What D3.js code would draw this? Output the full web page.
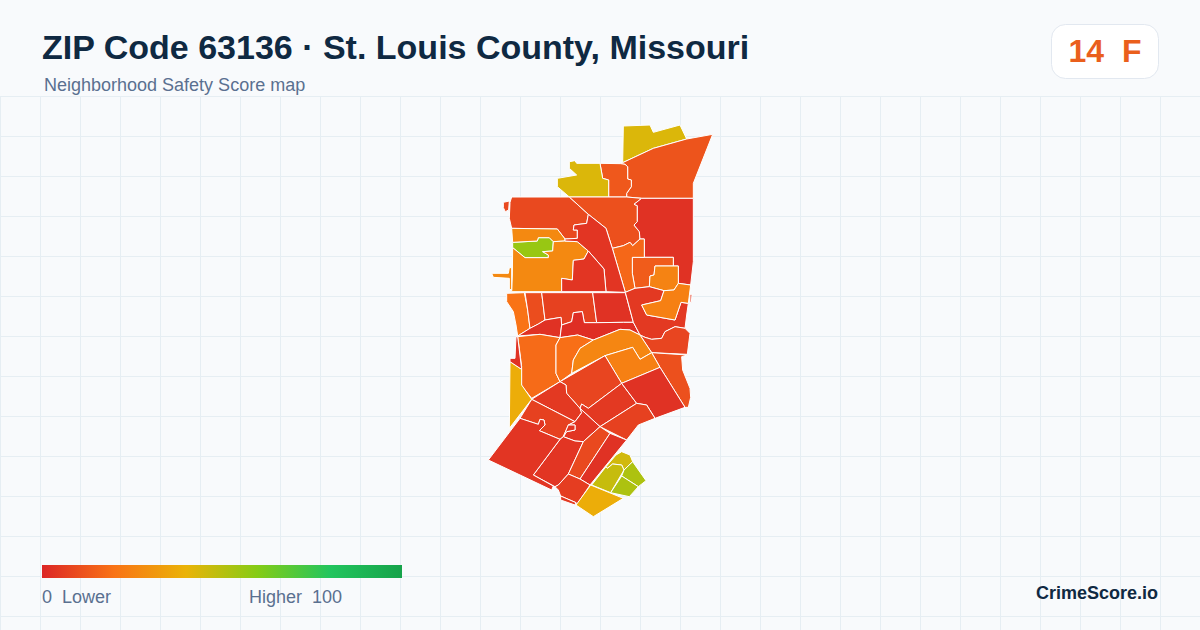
<!DOCTYPE html>
<html>
<head>
<meta charset="utf-8">
<script src="https://cdn.jsdelivr.net/npm/d3@7"></script>
<style>
  html, body { margin: 0; padding: 0; background: #f8fafc; }
  svg { display: block; }
  text { font-family: "Liberation Sans", Arial, sans-serif; white-space: pre; }
</style>
</head>
<body>
<div id="chart"></div>
<script>
const titleText = "ZIP Code 63136 · St. Louis County, Missouri";
const subtitleText = "Neighborhood Safety Score map";
const overallScore = 14;
const overallGrade = "F";
const legendLow = "0  Lower";
const legendHigh = "Higher  100";
const brandText = "CrimeScore.io";

const colorStops = [0, 20, 40, 60, 80, 100];
const colorValues = ["#dc2626", "#f97316", "#eab308", "#84cc16", "#22c55e", "#16a34a"];

// block group score
const tractScores = [
  43, 12, 13, 43, 9, 9, 11, 3, 14, 25, 17, 56, 27, 27, 27, 4, 4,
  20, 10, 7, 3, 3, 2, 5, 5, 24, 8, 11,
  18, 19, 26, 24, 8, 5, 3, 7, 5, 7, 4, 4, 4, 4, 9, 3, 6, 5,
  45, 47, 52, 52, 38, 38, 3
];

// block group outlines in map units
const tractRings = [
  [[430,33],[510,30],[520,52],[600,30],[620,72],[520,100],[428,143]],
  [[428,143],[520,100],[620,72],[698,58],[640,205],[640,250],[485,250],[440,246],[440,235],[454,215],[454,195],[443,192],[443,155],[435,148],[422,146]],
  [[360,145],[422,146],[435,148],[443,155],[443,192],[454,195],[454,215],[440,235],[440,246],[386,246],[386,195],[368,190]],
  [[268,140],[285,137],[290,145],[360,145],[368,190],[386,195],[386,246],[268,246],[232,215],[232,190],[290,180],[268,160]],
  [[95,246],[268,246],[325,298],[320,325],[282,330],[280,345],[292,345],[292,370],[255,372],[232,342],[95,340],[88,310],[90,262]],
  [[70,262],[88,258],[86,285],[76,290],[70,278]],
  [[268,246],[440,246],[485,250],[462,268],[472,272],[472,320],[462,330],[478,350],[480,372],[458,392],[450,382],[430,392],[397,400],[378,340],[325,298]],
  [[485,250],[640,250],[640,440],[632,510],[595,505],[595,453],[580,453],[580,427],[493,427],[493,372],[480,372],[478,350],[462,330],[472,320],[472,272],[462,268]],
  [[457,427],[580,427],[580,453],[525,453],[522,480],[510,483],[508,515],[465,520],[457,475]],
  [[525,453],[595,453],[595,505],[582,525],[552,527],[508,515],[510,483],[522,480]],
  [[397,400],[430,392],[450,382],[458,392],[480,372],[493,372],[493,427],[457,427],[457,475],[465,520],[436,532]],
  [[98,382],[172,378],[175,368],[208,368],[220,380],[218,408],[188,410],[205,420],[205,428],[135,428],[98,398]],
  [[95,340],[232,342],[255,372],[255,378],[220,380],[208,368],[175,368],[172,378],[98,382]],
  [[98,398],[135,428],[205,428],[205,420],[188,410],[218,408],[220,380],[255,378],[292,380],[325,408],[312,432],[280,436],[277,495],[245,490],[245,530],[95,530],[97,480]],
  [[35,475],[85,475],[88,458],[95,458],[95,525],[88,522],[88,490],[40,487]],
  [[320,325],[325,298],[378,340],[397,400],[436,532],[378,530],[372,462],[325,408],[292,380],[255,378],[255,372],[292,370],[292,345],[280,345],[282,330]],
  [[245,490],[277,495],[280,436],[312,432],[325,408],[372,462],[378,530],[245,530]],
  [[80,535],[133,533],[143,585],[150,640],[113,663],[108,630],[100,590],[80,560]],
  [[135,533],[185,533],[195,615],[175,627],[150,640],[143,585]],
  [[185,533],[338,533],[350,623],[313,623],[307,590],[280,593],[275,620],[245,630],[243,607],[195,615]],
  [[338,533],[436,533],[460,622],[430,622],[350,623]],
  [[113,663],[150,640],[175,627],[195,615],[243,607],[245,630],[240,668],[180,658]],
  [[245,630],[275,620],[280,593],[307,590],[313,623],[350,623],[430,622],[460,622],[480,660],[450,645],[420,643],[340,675],[293,660],[240,668]],
  [[436,532],[465,520],[508,515],[552,527],[542,557],[485,570],[500,600],[585,615],[603,562],[625,565],[620,600],[615,640],[585,635],[555,650],[545,670],[515,673],[495,667],[480,660],[460,622]],
  [[630,538],[636,538],[634,562],[630,562]],
  [[552,527],[582,525],[595,505],[632,510],[625,565],[603,562],[585,615],[500,600],[485,570],[542,557]],
  [[480,660],[495,667],[515,673],[545,670],[555,650],[585,635],[615,640],[630,655],[622,718],[515,713]],
  [[515,713],[622,720],[605,725],[608,765],[630,820],[632,847],[625,877],[615,877],[540,757]],
  [[113,665],[180,658],[240,668],[228,690],[228,775],[240,800],[155,850],[123,810],[125,755],[118,700]],
  [[240,668],[293,660],[340,675],[300,700],[280,735],[275,775],[240,800],[228,775],[228,690]],
  [[340,675],[420,643],[450,645],[480,660],[515,713],[480,733],[458,697],[375,722],[275,775],[280,735],[300,700]],
  [[375,722],[458,697],[480,733],[515,713],[540,757],[425,805]],
  [[375,722],[425,805],[325,880],[305,867],[300,880],[260,835],[258,810],[240,800]],
  [[425,805],[470,865],[360,935],[300,880],[305,867],[325,880]],
  [[425,805],[540,757],[615,877],[525,910],[500,870],[470,865]],
  [[470,865],[500,870],[525,910],[475,930],[440,975],[360,935]],
  [[155,853],[240,800],[258,810],[260,835],[300,880],[305,893],[285,920]],
  [[155,853],[285,920],[265,930],[250,965],[240,973],[178,947],[195,930],[192,915],[180,913],[175,928],[120,910]],
  [[300,880],[360,935],[310,980],[285,978],[250,965],[260,950],[285,945],[285,930],[265,930],[285,920],[305,893]],
  [[265,930],[285,930],[285,945],[260,950],[250,965]],
  [[240,973],[250,965],[285,978],[310,980],[265,1077],[235,1110],[225,1115],[160,1080]],
  [[120,910],[175,928],[180,913],[192,915],[195,930],[178,947],[240,973],[160,1080],[220,1113],[215,1125],[25,1035]],
  [[360,935],[390,955],[300,1092],[265,1077],[310,980]],
  [[390,955],[440,975],[330,1110],[300,1092]],
  [[265,1077],[300,1092],[330,1110],[290,1170],[288,1163],[242,1143],[235,1125],[225,1115],[235,1110]],
  [[242,1143],[288,1163],[285,1170],[242,1155]],
  [[378,1055],[408,1020],[425,1010],[450,1020],[458,1040],[432,1065],[425,1050],[398,1047],[382,1060]],
  [[378,1055],[382,1060],[398,1047],[425,1050],[432,1065],[392,1133],[335,1110]],
  [[458,1040],[498,1097],[475,1115],[425,1083],[432,1065]],
  [[425,1083],[475,1115],[448,1145],[392,1133]],
  [[332,1110],[430,1150],[340,1205],[288,1170]],
  [[90,740],[125,763],[125,810],[155,853],[88,940]],
  [[108,665],[113,665],[125,763],[90,740],[90,730],[105,730]]
];

const width = 1200, height = 630;

const color = d3.scaleLinear().domain(colorStops).range(colorValues);
const xMap = d3.scaleLinear().domain([0, 720]).range([480, 720]);
const yMap = d3.scaleLinear().domain([0, 1230]).range([115, 525]);

const svg = d3.select("#chart").append("svg")
  .attr("width", width)
  .attr("height", height);

svg.append("rect")
  .attr("width", width)
  .attr("height", height)
  .attr("fill", "#f8fafc");

// background grid
const grid = svg.append("g").attr("stroke", "#e6eef3").attr("stroke-width", 1);
grid.selectAll("line.v")
  .data(d3.range(0.5, width, 40))
  .join("line")
  .attr("class", "v")
  .attr("x1", d => d).attr("x2", d => d)
  .attr("y1", 96).attr("y2", height);
grid.selectAll("line.h")
  .data(d3.range(96.5, height, 40))
  .join("line")
  .attr("class", "h")
  .attr("x1", 0).attr("x2", width)
  .attr("y1", d => d).attr("y2", d => d);

// map
const ringLine = d3.line()
  .x(d => xMap(d[0]))
  .y(d => yMap(d[1]))
  .curve(d3.curveLinearClosed);

svg.append("g")
  .selectAll("path")
  .data(tractRings)
  .join("path")
  .attr("d", ringLine)
  .attr("fill", (d, i) => color(tractScores[i]))
  .attr("stroke", "#ffffff")
  .attr("stroke-width", 1)
  .attr("stroke-linejoin", "round");

// header
svg.append("text")
  .attr("x", 42).attr("y", 59)
  .attr("font-size", 34)
  .attr("font-weight", 700)
  .attr("fill", "#0f2942")
  .text(titleText);

svg.append("text")
  .attr("x", 44).attr("y", 91)
  .attr("font-size", 18)
  .attr("fill", "#5a7090")
  .text(subtitleText);

// score badge
svg.append("rect")
  .attr("x", 1051.5).attr("y", 24.5)
  .attr("width", 107).attr("height", 54)
  .attr("rx", 14)
  .attr("fill", "#ffffff")
  .attr("stroke", "#e2e8f0");

svg.append("text")
  .attr("x", 1105).attr("y", 62)
  .attr("text-anchor", "middle")
  .attr("font-size", 32)
  .attr("font-weight", 700)
  .attr("fill", "#ea5f1c")
  .text(`${overallScore}  ${overallGrade}`);

// legend
const legendScale = d3.scaleLinear().domain([0, 100]).range([42, 402]);

const gradient = svg.append("defs").append("linearGradient")
  .attr("id", "score-gradient");
gradient.selectAll("stop")
  .data(colorStops)
  .join("stop")
  .attr("offset", d => `${d}%`)
  .attr("stop-color", d => color(d));

svg.append("rect")
  .attr("x", legendScale(0)).attr("y", 565)
  .attr("width", legendScale(100) - legendScale(0)).attr("height", 13)
  .attr("fill", "url(#score-gradient)");

svg.append("text")
  .attr("x", 42).attr("y", 603)
  .attr("font-size", 18)
  .attr("fill", "#5a7090")
  .text(legendLow);

svg.append("text")
  .attr("x", 342).attr("y", 603)
  .attr("text-anchor", "end")
  .attr("font-size", 18)
  .attr("fill", "#5a7090")
  .text(legendHigh);

svg.append("text")
  .attr("x", 1158).attr("y", 599)
  .attr("text-anchor", "end")
  .attr("font-size", 18)
  .attr("font-weight", 700)
  .attr("fill", "#0f2942")
  .text(brandText);
</script>
</body>
</html>
